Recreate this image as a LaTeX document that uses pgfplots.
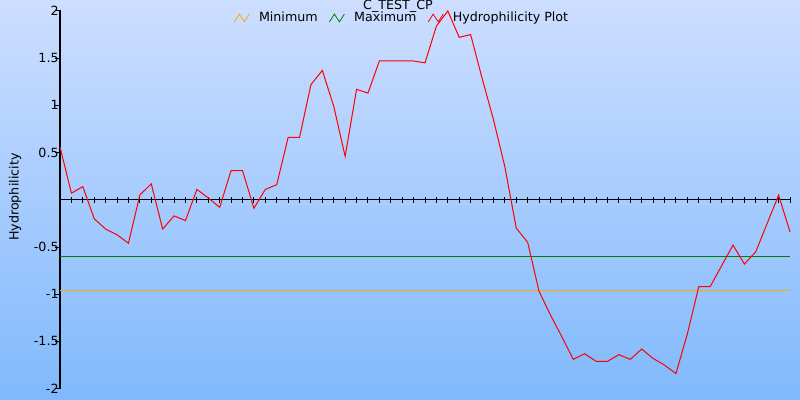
\documentclass[border=0pt]{standalone}
\usepackage{fontspec}
\setmainfont{DejaVu Sans}
\usepackage{pgfplots}
\pgfplotsset{compat=1.18}
\definecolor{bgtop}{RGB}{205,222,255}
\definecolor{bgbot}{RGB}{128,185,252}
\definecolor{minc}{RGB}{255,168,0}
\definecolor{maxc}{RGB}{0,128,0}
\begin{document}
\fontsize{9.5}{11}\selectfont
\begin{tikzpicture}
\shade[top color=bgtop, bottom color=bgbot] (0,0) rectangle (600pt,300pt);
\begin{axis}[
  at={(45pt,8.5pt)}, anchor=south west,
  scale only axis, width=547.5pt, height=283.3pt,
  xmin=0, xmax=64, ymin=-2, ymax=2,
  axis x line*=middle, axis y line*=left,
  axis line style={black, line width=0.75pt},
  clip=false,
  xtick={1,...,64}, xticklabels={},
  ytick={-2,-1.5,-1,-0.5,0.5,1,1.5,2},
  yticklabels={-2,-1.5,-1,-0.5,0.5,1,1.5,2},
  major tick length=4.5pt,
  x tick style={black, line width=0.75pt},
  y tick style={black, line width=0.75pt, xshift=-1.15pt},
  xtick align=center, ytick align=center,
  yticklabel style={font=\fontsize{9.5}{11}\selectfont, inner sep=0pt, xshift=1.4pt},
  every axis title shift=0pt,
  title={C\_TEST\_CP},
  title style={at={(axis description cs:0.463,1.003)}, anchor=base, inner sep=0pt, font=\fontsize{9.5}{11}\selectfont},
  ylabel={Hydrophilicity},
  ylabel style={at={(axis description cs:-0.0616,0.507)}, anchor=center, font=\fontsize{9.5}{11}\selectfont},
  legend columns=3,
  legend style={draw=none, fill=none, at={(axis description cs:0.469,0.981)}, anchor=center,
    font=\fontsize{9.5}{11}\selectfont, inner sep=0pt,
    /tikz/every odd column/.append style={column sep=5pt},
    /tikz/every even column/.append style={column sep=6.5pt}},
  legend image code/.code={\draw[#1, line width=0.6pt] (0pt,-2.8pt) -- (3.7pt,3pt) -- (7.5pt,-2.8pt) -- (11.2pt,3pt);},
]
\addplot[minc, line width=0.75pt] coordinates {(0,-0.96) (64,-0.96)};
\addlegendentry{Minimum}
\addplot[maxc, line width=0.75pt] coordinates {(0,-0.60) (64,-0.60)};
\addlegendentry{Maximum}
\addplot[red, line width=0.75pt] table {
x y
0 0.56
1 0.07
2 0.14
3 -0.20
4 -0.31
5 -0.37
6 -0.46
7 0.05
8 0.17
9 -0.31
10 -0.17
11 -0.22
12 0.11
13 0.02
14 -0.08
15 0.31
16 0.31
17 -0.09
18 0.11
19 0.16
20 0.66
21 0.66
22 1.22
23 1.37
24 0.99
25 0.46
26 1.17
27 1.13
28 1.47
29 1.47
30 1.47
31 1.47
32 1.45
33 1.84
34 2.00
35 1.72
36 1.75
37 1.29
38 0.85
39 0.35
40 -0.30
41 -0.45
42 -0.97
43 -1.22
44 -1.45
45 -1.69
46 -1.63
47 -1.71
48 -1.71
49 -1.64
50 -1.69
51 -1.58
52 -1.68
53 -1.75
54 -1.84
55 -1.42
56 -0.92
57 -0.92
58 -0.70
59 -0.48
60 -0.68
61 -0.55
62 -0.25
63 0.05
64 -0.34
};
\addlegendentry{Hydrophilicity Plot}
\end{axis}
\pgfresetboundingbox
\path (0,0) rectangle (600pt,300pt);
\end{tikzpicture}
\end{document}
